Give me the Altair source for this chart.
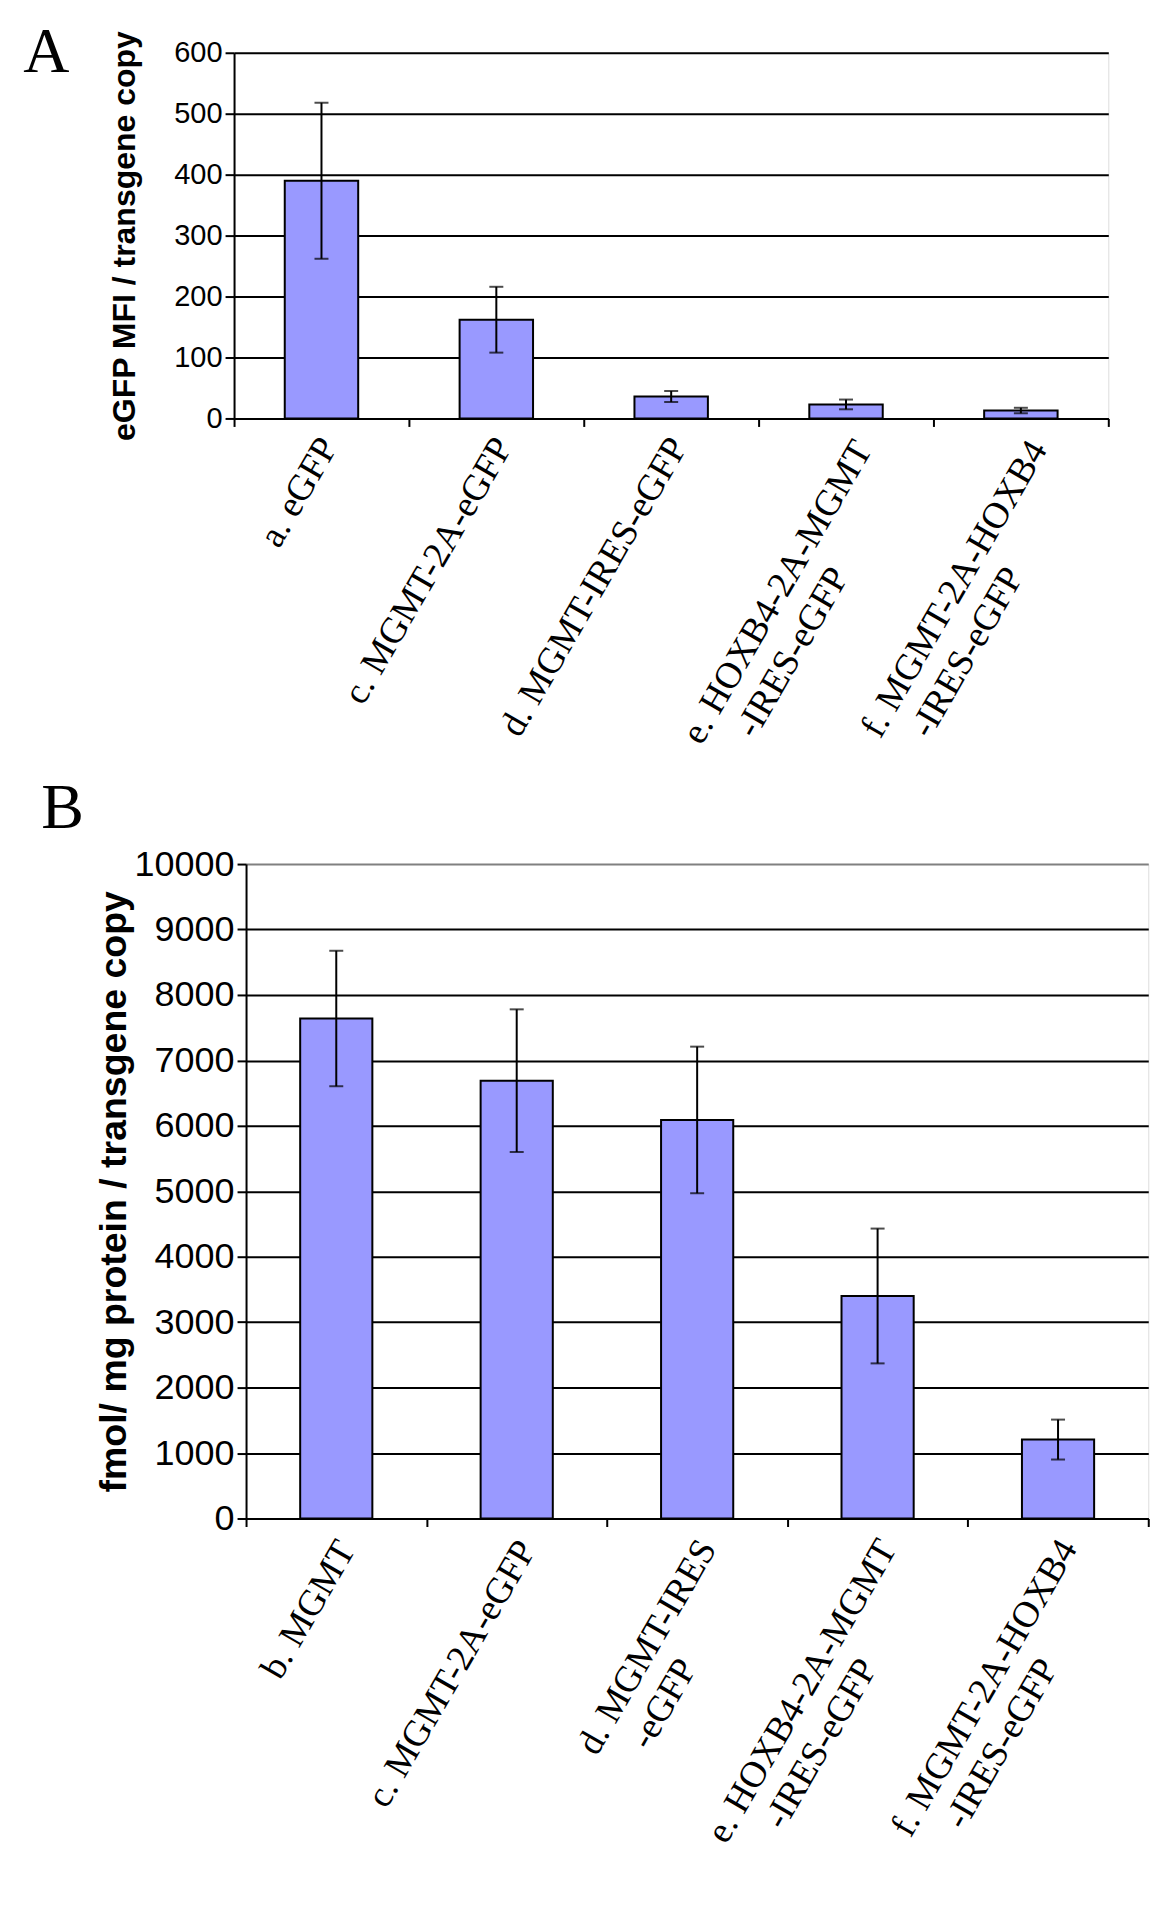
import altair as alt
import pandas as pd

# ---------------- Panel A data ----------------
catsA = ["a. eGFP", "c. MGMT-2A-eGFP", "d. MGMT-IRES-eGFP", "e. HOXB4-2A-MGMT", "f. MGMT-2A-HOXB4"]
line2A = ["", "", "", "-IRES-eGFP", "-IRES-eGFP"]
valsA = [390, 162, 36, 23, 13]
errA = [128, 54, 9, 8, 4.5]
ticksA = [0, 100, 200, 300, 400, 500, 600]
titleA = "eGFP MFI / transgene copy"

# ---------------- Panel B data ----------------
catsB = ["b. MGMT", "c. MGMT-2A-eGFP", "d. MGMT-IRES", "e. HOXB4-2A-MGMT", "f. MGMT-2A-HOXB4"]
line2B = ["", "", "-eGFP", "-IRES-eGFP", "-IRES-eGFP"]
valsB = [7640, 6690, 6090, 3400, 1206]
errB = [1035, 1090, 1120, 1030, 305]
ticksB = [0, 1000, 2000, 3000, 4000, 5000, 6000, 7000, 8000, 9000, 10000]
titleB = "fmol/ mg protein / transgene copy"

BAR = "#9999ff"
SANS = "Liberation Sans"
SERIF = "Liberation Serif"


def make_panel(key, cats, line2, vals, errs, ticks, ytitle, letter, width, height,
               label_size, title_size, title_x, letter_x, letter_y, bar_frac, top_gray,
               one_off, one_pad, two_off, two_pad, l2_dx, l2_dy, bound_x=None):
    cat, l2, v, lo, hi = "cat" + key, "l2" + key, "v" + key, "lo" + key, "hi" + key
    df = pd.DataFrame({
        cat: cats, l2: line2, v: vals,
        lo: [a - b for a, b in zip(vals, errs)],
        hi: [a + b for a, b in zip(vals, errs)],
    })
    two = [c for c, s in zip(cats, line2) if s]
    test = "indexof([" + ",".join("'%s'" % c for c in two) + "], datum.value) >= 0"

    x = alt.X(
        f"{cat}:N", sort=cats, title=None,
        scale=alt.Scale(paddingInner=0, paddingOuter=0),
        axis=alt.Axis(
            labelAngle=300, labelAlign="right", labelBaseline="middle",
            labelFont=SERIF, labelFontSize=37, labelColor="black",
            labelLimit=0, labelOverlap=False,
            labelOffset={"condition": {"test": test, "value": two_off}, "value": one_off},
            labelPadding={"condition": {"test": test, "value": two_pad}, "value": one_pad},
            tickBand="extent", ticks=True, tickSize=8, tickWidth=2, tickColor="black",
            domainColor="black", domainWidth=2, grid=False,
        ),
    )
    scale_y = alt.Scale(domain=[0, ticks[-1]], nice=False, zero=True)
    if top_gray:
        grid_color = {"condition": {"test": f"datum.value >= {ticks[-1]}", "value": "#808080"},
                      "value": "black"}
    else:
        grid_color = "black"
    axis_y = alt.Axis(
        values=ticks, format="d",
        labelFont=SANS, labelFontSize=label_size, labelColor="black", labelPadding=3,
        labelFlush=False,
        tickSize=9, tickWidth=2, tickColor="black",
        domainColor="black", domainWidth=2,
        grid=True, gridColor=grid_color, gridWidth=2,
        titleFont=SANS, titleFontSize=title_size, titleFontWeight="bold", titleColor="black",
        titleX=title_x, titleLimit=1000,
    )

    bars = alt.Chart(df).mark_bar(
        color=BAR, stroke="black", strokeWidth=2, width=alt.RelativeBandSize(bar_frac)
    ).encode(x=x, y=alt.Y(f"{v}:Q", scale=scale_y, axis=axis_y, title=ytitle))

    err = alt.Chart(df).mark_errorbar(ticks=True, size=14, thickness=2, color="black").encode(
        x=x,
        y=alt.Y(f"{lo}:Q", scale=scale_y, axis=axis_y, title=ytitle),
        y2=alt.Y2(f"{hi}:Q"),
    )

    second = alt.Chart(df).transform_filter(f"datum.{l2} != ''").mark_text(
        angle=300, align="right", baseline="middle", font=SERIF, fontSize=37,
        color="black", dx=l2_dx, dy=l2_dy,
    ).encode(
        x=x,
        y=alt.YDatum(0, type="quantitative", scale=scale_y, axis=axis_y, title=ytitle),
        text=f"{l2}:N",
    )

    letter_mark = alt.Chart(pd.DataFrame({"t": [letter]})).mark_text(
        font=SERIF, fontSize=64, align="left", baseline="alphabetic", color="black"
    ).encode(text="t:N", x=alt.value(letter_x), y=alt.value(letter_y))

    layers = [bars, err, second, letter_mark]
    if bound_x is not None:
        # invisible layout anchor: widens this panel's extent so the centred
        # vconcat offsets the two plot areas as in the original figure
        layers.append(alt.Chart(pd.DataFrame({"t": ["."]})).mark_text(
            fontSize=1, align="right", baseline="middle", opacity=0
        ).encode(text="t:N", x=alt.value(bound_x), y=alt.value(height / 2)))

    return alt.layer(*layers).properties(width=width, height=height)


XA = 233
WB = 903
BOUND_A = 928                       # keeps the page within 1170 px
XB = XA + (BOUND_A - (WB + 1)) // 2  # resulting left edge of panel B

panelA = make_panel("A", catsA, line2A, valsA, errA, ticksA, titleA, "A",
                    width=875, height=366, label_size=29, title_size=32,
                    title_x=140 - XA, letter_x=22 - XA, letter_y=19,
                    bar_frac=0.42, top_gray=False,
                    one_off=7, one_pad=14, two_off=17, two_pad=17,
                    l2_dx=-135, l2_dy=71, bound_x=BOUND_A)
panelB = make_panel("B", catsB, line2B, valsB, errB, ticksB, titleB, "B",
                    width=WB, height=655, label_size=36, title_size=37.5,
                    title_x=132 - XB, letter_x=40 - XB, letter_y=-36,
                    bar_frac=0.40, top_gray=True,
                    one_off=10, one_pad=17, two_off=10, two_pad=16,
                    l2_dx=-129, l2_dy=64)

chart = alt.vconcat(panelA, panelB, spacing=26, center=True).properties(
    padding={"left": 14, "top": 11, "right": 0, "bottom": 5}
).configure_view(stroke="#808080", strokeWidth=1.6).configure(background="white")

chart.save("out.html", embed_options={"renderer": "svg", "actions": False})
